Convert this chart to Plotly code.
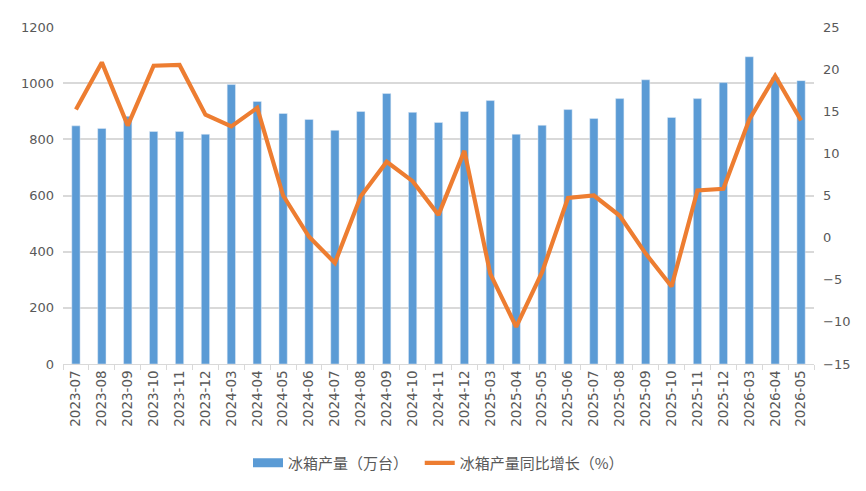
import plotly.graph_objects as go

months = ["2023-07","2023-08","2023-09","2023-10","2023-11","2023-12",
          "2024-03","2024-04","2024-05","2024-06","2024-07","2024-08","2024-09","2024-10","2024-11","2024-12",
          "2025-03","2025-04","2025-05","2025-06","2025-07","2025-08","2025-09","2025-10","2025-11","2025-12",
          "2026-03","2026-04","2026-05"]
output = [848, 839, 882, 828, 828, 818,
          995, 935, 892, 871, 832, 899, 963, 896, 860, 899,
          938, 818, 850, 906, 874, 945, 1012, 878, 945, 1002,
          1094, 1020, 1009]
growth = [15.2, 20.8, 13.3, 20.4, 20.5, 14.6,
          13.2, 15.4, 5.0, 0.1, -3.0, 4.9, 9.0, 6.7, 2.7, 10.3,
          -4.3, -10.6, -4.1, 4.7, 5.0, 2.6, -1.9, -5.8, 5.6, 5.8,
          14.0, 19.2, 13.9]

bar_name = "冰箱产量（万台）"
line_name = "冰箱产量同比增长（%）"

cjk_font = "Noto Sans CJK SC"
tick_font = "DejaVu Sans"
grey = "#595959"
blue = "#5b9bd5"
orange = "#ed7d31"

fig = go.Figure()
fig.add_trace(go.Bar(x=months, y=output, name=bar_name,
                     marker_color=blue, yaxis="y", showlegend=False))
# legend-only entry giving the wide rectangle swatch
fig.add_trace(go.Scatter(x=[None], y=[None], name=bar_name + "  ", mode="lines",
                         line=dict(color=blue, width=9), yaxis="y"))
fig.add_trace(go.Scatter(x=months, y=growth, name=line_name,
                         mode="lines", line=dict(color=orange, width=4.2),
                         yaxis="y2"))

fig.update_layout(
    width=866, height=491,
    margin=dict(l=63, r=52, t=27, b=125),
    paper_bgcolor="white", plot_bgcolor="white",
    font=dict(family=cjk_font, size=14, color=grey),
    bargap=0.68,
    showlegend=True,
    legend=dict(orientation="h", x=0.5, xanchor="center", y=-0.245, yanchor="top",
                font=dict(family=cjk_font, size=15, color=grey)),
    xaxis=dict(type="category", tickangle=-90, showgrid=False, automargin=False,
               showline=True, linecolor="#d9d9d9", linewidth=1,
               ticks="outside", tickson="boundaries", ticklen=5, tickcolor="#d9d9d9",
               tickfont=dict(family=tick_font, size=13.5, color=grey)),
    yaxis=dict(range=[0, 1200], dtick=200, showgrid=True, gridcolor="#d9d9d9",
               gridwidth=1.5, zeroline=False, showline=False, automargin=False,
               tickfont=dict(family=tick_font, size=13, color=grey), ticklabelstandoff=8),
    yaxis2=dict(range=[-15, 25], dtick=5, overlaying="y", side="right",
                showgrid=False, zeroline=False, showline=False, automargin=False,
                tickfont=dict(family=tick_font, size=13, color=grey), ticklabelstandoff=8),
)

fig.write_html("out.html")
